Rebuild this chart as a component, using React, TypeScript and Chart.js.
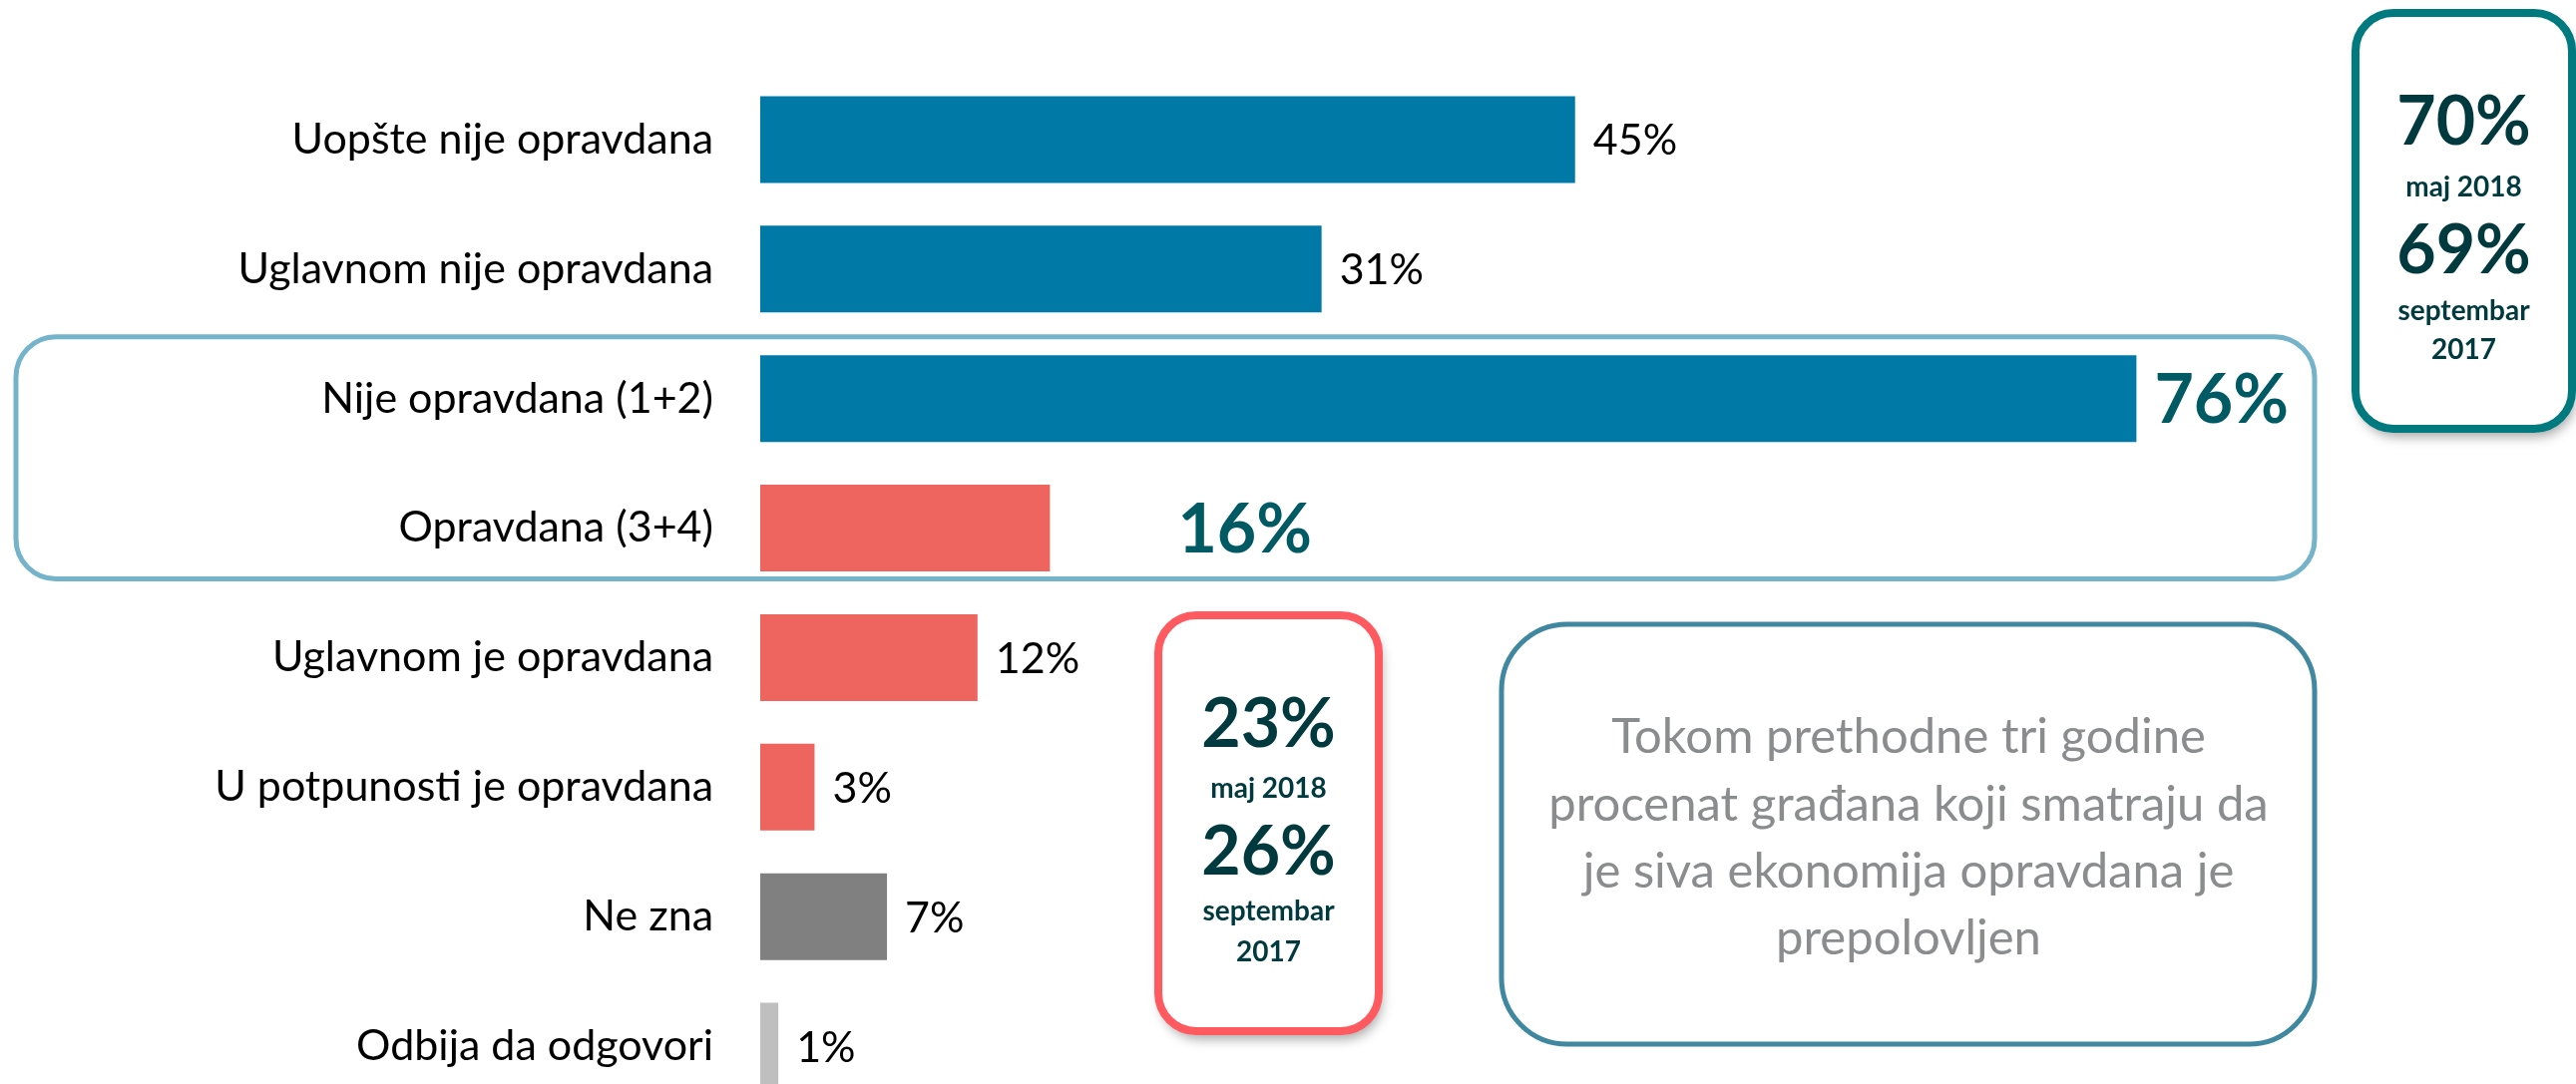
import { useEffect, useRef } from "react";
import { Chart, registerables } from "chart.js";

Chart.register(...registerables);

const categories = [
  "Uopšte nije opravdana",
  "Uglavnom nije opravdana",
  "Nije opravdana (1+2)",
  "Opravdana (3+4)",
  "Uglavnom je opravdana",
  "U potpunosti je opravdana",
  "Ne zna",
  "Odbija da odgovori",
];
const values = [45, 31, 76, 16, 12, 3, 7, 1];
const barColors = ["#0079A6", "#0079A6", "#0079A6", "#EE6560", "#EE6560", "#EE6560", "#808080", "#BFBFBF"];

const notJustifiedTrend = ["70%", "maj 2018", "69%", "septembar", "2017"];
const justifiedTrend = ["23%", "maj 2018", "26%", "septembar", "2017"];
const noteLines = [
  "Tokom prethodne tri godine",
  "procenat građana koji smatraju da",
  "je siva ekonomija opravdana je",
  "prepolovljen",
];

const FONT = "Lato";

function roundRectPath(ctx: CanvasRenderingContext2D, x: number, y: number, w: number, h: number, r: number) {
  ctx.beginPath();
  ctx.moveTo(x + r, y);
  ctx.lineTo(x + w - r, y);
  ctx.arcTo(x + w, y, x + w, y + r, r);
  ctx.lineTo(x + w, y + h - r);
  ctx.arcTo(x + w, y + h, x + w - r, y + h, r);
  ctx.lineTo(x + r, y + h);
  ctx.arcTo(x, y + h, x, y + h - r, r);
  ctx.lineTo(x, y + r);
  ctx.arcTo(x, y, x + r, y, r);
  ctx.closePath();
}

function drawTrendBox(
  ctx: CanvasRenderingContext2D,
  x: number, y: number, w: number, h: number,
  stroke: string, texts: string[], baselines: number[]
) {
  ctx.save();
  roundRectPath(ctx, x, y, w, h, 38);
  ctx.shadowColor = "rgba(0,0,0,0.35)";
  ctx.shadowBlur = 12;
  ctx.shadowOffsetX = 3;
  ctx.shadowOffsetY = 8;
  ctx.fillStyle = "#ffffff";
  ctx.fill();
  ctx.shadowColor = "transparent";
  ctx.lineWidth = 8;
  ctx.strokeStyle = stroke;
  ctx.stroke();
  ctx.fillStyle = "#003A3F";
  ctx.textAlign = "center";
  ctx.textBaseline = "alphabetic";
  const cx = x + w / 2;
  texts.forEach((t, i) => {
    const big = i === 0 || i === 2;
    ctx.font = `bold ${big ? 68 : 28}px ${FONT}`;
    ctx.fillText(t, cx, baselines[i]);
  });
  ctx.restore();
}

const overlayPlugin = {
  id: "overlay",
  afterDatasetsDraw(chart: any) {
    const ctx: CanvasRenderingContext2D = chart.ctx;
    const meta = chart.getDatasetMeta(0);
    const yScale = chart.scales.y;

    // value labels
    meta.data.forEach((el: any, i: number) => {
      const big = i === 2 || i === 3;
      const size = big ? 68 : 43;
      ctx.save();
      ctx.font = `${big ? "bold " : ""}${size}px ${FONT}`;
      ctx.fillStyle = big ? "#005A64" : "#000000";
      ctx.textAlign = "left";
      ctx.textBaseline = "alphabetic";
      const gap = i === 3 ? 128 : big ? 18 : 18;
      ctx.fillText(values[i] + "%", el.x + gap, el.y + size * 0.36);
      ctx.restore();
    });

    // highlight frame around aggregated rows
    const yTop = yScale.getPixelForValue(2) - 62;
    const yBot = yScale.getPixelForValue(3) + 51;
    ctx.save();
    roundRectPath(ctx, 16, yTop, 2320 - 16, yBot - yTop, 40);
    ctx.lineWidth = 5;
    ctx.strokeStyle = "#74B3CA";
    ctx.stroke();
    ctx.restore();

    // trend boxes
    drawTrendBox(ctx, 2361, 13, 2578 - 2361, 430 - 13, "#007A7F", notJustifiedTrend, [145, 197, 274, 321, 360]);
    drawTrendBox(ctx, 1161, 617, 1382 - 1161, 1034 - 617, "#FF5A5F", justifiedTrend, [749, 800, 877, 923, 964]);

    // note box
    ctx.save();
    roundRectPath(ctx, 1505, 626, 2320 - 1505, 1047 - 626, 66);
    ctx.lineWidth = 5;
    ctx.strokeStyle = "#3F88A0";
    ctx.stroke();
    ctx.fillStyle = "#8B8C8E";
    ctx.font = `49px ${FONT}`;
    ctx.textAlign = "center";
    ctx.textBaseline = "alphabetic";
    const nb = [755, 823, 890, 957];
    noteLines.forEach((t, i) => ctx.fillText(t, 1913, nb[i]));
    ctx.restore();
  },
};

export default function App() {
  const ref = useRef<HTMLCanvasElement | null>(null);

  useEffect(() => {
    if (!ref.current) return;
    const chart = new Chart(ref.current, {
      type: "bar",
      data: {
        labels: categories,
        datasets: [
          {
            data: values,
            backgroundColor: barColors,
            borderWidth: 0,
            categoryPercentage: 1,
            barPercentage: 0.67,
          },
        ],
      },
      options: {
        indexAxis: "y",
        animation: false,
        responsive: false,
        layout: { padding: { top: 75, bottom: 16, left: 0, right: 5 } },
        plugins: { legend: { display: false }, tooltip: { enabled: false } },
        scales: {
          x: { display: false, min: 0, max: 100 },
          y: {
            grid: { display: false },
            border: { display: false },
            ticks: {
              color: "#000000",
              padding: 39,
              font: { family: FONT, size: 43 },
            },
            afterFit: (scale: any) => {
              scale.width = 762;
              scale.paddingTop = 0;
              scale.paddingBottom = 0;
            },
          },
        },
      },
      plugins: [overlayPlugin],
    });
    return () => chart.destroy();
  }, []);

  return (
    <div
      style={{
        position: "fixed",
        left: 0,
        top: 0,
        width: 2582,
        height: 1087,
        overflow: "hidden",
        background: "#ffffff",
      }}
    >
      <canvas ref={ref} width={2582} height={1130} style={{ width: 2582, height: 1130, display: "block" }} />
    </div>
  );
}
